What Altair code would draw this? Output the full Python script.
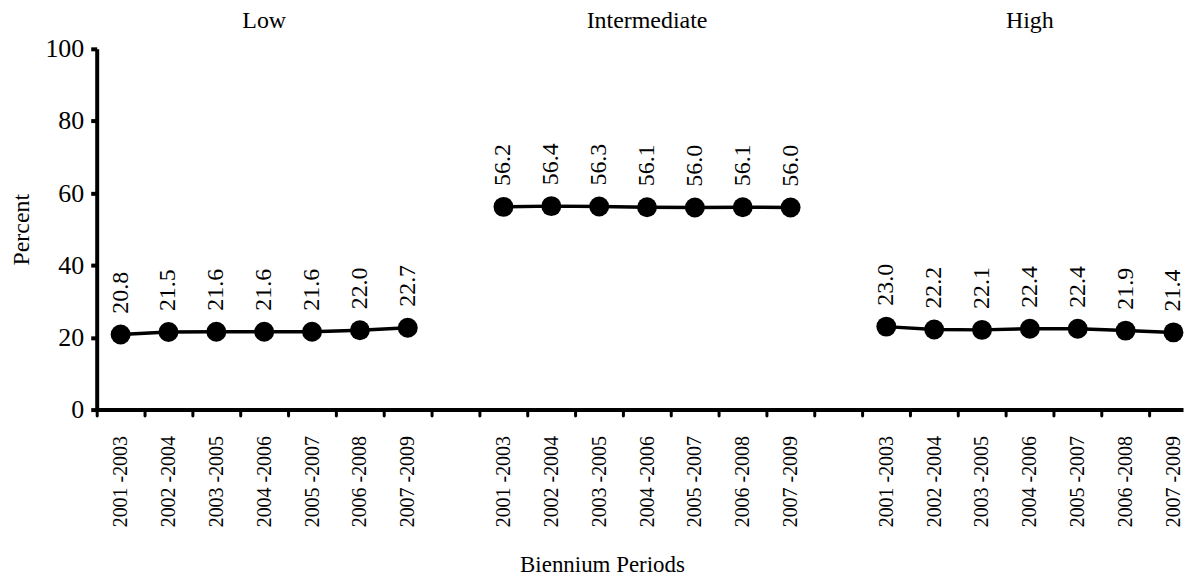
import altair as alt
import pandas as pd

periods = ["2001 -2003", "2002 -2004", "2003 -2005", "2004 -2006",
           "2005 -2007", "2006 -2008", "2007 -2009"]
groups = ["Low", "Intermediate", "High"]
low = [20.8, 21.5, 21.6, 21.6, 21.6, 22.0, 22.7]
intermediate = [56.2, 56.4, 56.3, 56.1, 56.0, 56.1, 56.0]
high = [23.0, 22.2, 22.1, 22.4, 22.4, 21.9, 21.4]
y_ticks = [0, 20, 40, 60, 80, 100]

SLOT = 8  # 7 periods + 1 blank gap per group
rows = []
for gi, (g, vals) in enumerate(zip(groups, [low, intermediate, high])):
    for pi, (p, v) in enumerate(zip(periods, vals)):
        rows.append({"group": g, "period": p, "pos": gi * SLOT + pi,
                     "value": v, "label": f"{v:.1f}"})
df = pd.DataFrame(rows)

titles_df = pd.DataFrame({"group": groups,
                          "pos": [gi * SLOT + 3 for gi in range(len(groups))]})

n_slots = SLOT * len(groups) - 1
slot_labels = [periods[k % SLOT] if k % SLOT < len(periods) else "" for k in range(n_slots)]
label_joined = "|".join(slot_labels)
# ticks sit on the slot boundaries; labels are shifted half a slot to the slot centre
tick_vals = [k - 0.5 for k in range(n_slots)]

FONT = "Liberation Serif"
WIDTH = 1090
DOMAIN = [-0.5, 22.2]
slot_px = WIDTH / (DOMAIN[1] - DOMAIN[0])

x_enc = alt.X(
    "pos:Q",
    scale=alt.Scale(domain=DOMAIN, nice=False, zero=False),
    axis=alt.Axis(
        values=tick_vals,
        labelExpr=f"split('{label_joined}', '|')[round(datum.value + 0.5)]",
        labelAngle=270, labelOffset=slot_px / 2,
        labelFont=FONT, labelFontSize=20, labelColor="black",
        labelPadding=20, labelOverlap=False,
        tickSize=6, tickWidth=3, tickColor="black", tickCap="round",
        domainWidth=4, domainColor="black",
        grid=False,
        title="Biennium Periods",
        titleFont=FONT, titleFontSize=23, titleFontWeight="normal", titleColor="black",
        titleX=507, titleY=155, titleBaseline="middle", titleAlign="center",
    ),
)

y_enc = alt.Y(
    "value:Q",
    scale=alt.Scale(domain=[0, 100], nice=False),
    axis=alt.Axis(
        values=y_ticks,
        labelFont=FONT, labelFontSize=26, labelColor="black", labelPadding=7,
        tickSize=6, tickWidth=4, tickColor="black",
        domainWidth=4, domainColor="black",
        grid=False,
        title="Percent",
        titleFont=FONT, titleFontSize=24, titleFontWeight="normal", titleColor="black",
        titlePadding=11,
    ),
)

base = alt.Chart(df)

lines = base.mark_line(color="black", strokeWidth=3.5).encode(
    x=x_enc, y=y_enc, detail="group:N")

points = base.mark_circle(color="black", opacity=1, size=400).encode(
    x="pos:Q", y="value:Q")

labels = base.mark_text(
    angle=270, align="left", baseline="middle", dx=21,
    font=FONT, fontSize=24, color="black",
).encode(x="pos:Q", y="value:Q", text="label:N")

group_titles = alt.Chart(titles_df).mark_text(
    baseline="middle", align="center", font=FONT, fontSize=24, color="black",
).encode(x="pos:Q", y=alt.value(-28), text="group:N")

chart = alt.layer(lines, points, labels, group_titles).properties(
    width=WIDTH, height=362,
    padding={"left": 2, "top": 0, "right": 0, "bottom": 0},
    background="white",
).configure_view(strokeWidth=0)

chart.save("out.html", embed_options={"renderer": "svg", "actions": False})
